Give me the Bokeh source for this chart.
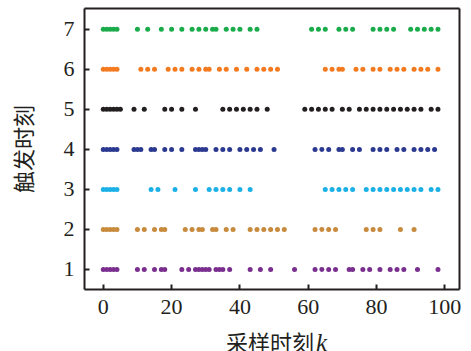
from bokeh.plotting import figure
from bokeh.models import FixedTicker, Range1d, LinearAxis, Div
from bokeh.layouts import column
from bokeh.embed import file_html
from bokeh.resources import INLINE

# trigger instants for each of the 7 channels (sampling instant k)
t1 = [0, 1, 2, 3, 4, 10, 12, 15, 17, 18, 23, 25, 27, 28, 29, 30, 31, 33, 34, 35, 37, 43, 46, 49,
      56, 62, 64, 66, 68, 72, 73, 76, 78, 81, 84, 86, 88, 92, 98]
t2 = [0, 1, 2, 3, 4, 10, 12, 15, 17, 18, 24, 26, 28, 29, 32, 33, 36, 38, 43, 45, 47, 49, 51, 53,
      62, 64, 66, 68, 77, 79, 81, 87, 91]
t3 = [0, 1, 2, 3, 4, 14, 16, 21, 27, 31, 33, 35, 37, 40, 43,
      65, 67, 69, 71, 73, 77, 79, 81, 83, 85, 87, 89, 91, 93, 96, 98]
t4 = [0, 1, 2, 3, 4, 9, 10, 11, 14, 15, 18, 20, 23, 27, 28, 29, 30, 33, 35, 37, 40, 42, 44, 46, 50,
      62, 64, 66, 69, 70, 73, 75, 79, 81, 83, 86, 88, 91, 93, 95, 97]
t5 = [0, 1, 2, 3, 4, 5, 9, 12, 18, 20, 23, 27, 35, 37, 39, 41, 43, 45, 48,
      59, 61, 63, 65, 67, 70, 72, 75, 77, 79, 81, 83, 85, 87, 89, 91, 93, 96, 98]
t6 = [0, 1, 2, 3, 4, 11, 13, 15, 19, 21, 23, 26, 28, 30, 31, 34, 36, 39, 42, 45, 47, 49, 51,
      65, 67, 69, 70, 74, 76, 79, 81, 84, 86, 88, 91, 93, 95, 98]
t7 = [0, 1, 2, 3, 4, 10, 13, 17, 20, 23, 26, 28, 30, 32, 33, 36, 38, 40, 43, 45,
      61, 63, 65, 69, 71, 73, 79, 81, 83, 85, 90, 92, 94, 96, 98]

series = [t1, t2, t3, t4, t5, t6, t7]
levels = [1, 2, 3, 4, 5, 6, 7]
colors = ["#7a2f8f", "#c88a3c", "#1bb1e6", "#2b3990", "#231f20", "#f47a20", "#1aab4b"]

x_ticks = [0, 20, 40, 60, 80, 100]
y_ticks = [1, 2, 3, 4, 5, 6, 7]
x_label = "采样时刻"
x_label_var = "k"
y_label = "触发时刻"

SERIF = "Liberation Serif, serif"
CJK = "Noto Sans CJK SC"
INK = "#231f20"

p = figure(width=470, height=325, output_backend="svg", toolbar_location=None,
           x_range=Range1d(-5.5, 104.3), y_range=Range1d(0.5, 7.52),
           min_border_left=84, min_border_right=11, min_border_top=8, min_border_bottom=36)

for ts, lv, c in zip(series, levels, colors):
    p.scatter(ts, [lv] * len(ts), size=5, color=c, line_width=0)

p.grid.visible = False
p.outline_line_color = None
p.background_fill_color = "white"
p.border_fill_color = "white"

bottom_ax = p.below[0]
left_ax = p.left[0]
top_ax = LinearAxis(ticker=FixedTicker(ticks=[]), major_label_text_font_size="0px")
right_ax = LinearAxis(ticker=FixedTicker(ticks=[]), major_label_text_font_size="0px")
p.add_layout(top_ax, "above")
p.add_layout(right_ax, "right")

for ax in (bottom_ax, left_ax, top_ax, right_ax):
    ax.axis_line_color = INK
    ax.axis_line_width = 2
    ax.major_tick_in = 5
    ax.major_tick_out = 0
    ax.major_tick_line_color = INK
    ax.major_tick_line_width = 2
    ax.minor_tick_line_color = None
    ax.major_label_text_font = SERIF
    ax.major_label_text_color = INK

for ax in (top_ax, right_ax):
    ax.major_tick_line_color = None
    ax.major_label_standoff = 0

for ax in (bottom_ax, left_ax):
    ax.major_label_text_font_size = "22px"
    ax.major_label_standoff = 10

bottom_ax.ticker = FixedTicker(ticks=x_ticks)
left_ax.ticker = FixedTicker(ticks=y_ticks)

left_ax.axis_label = y_label
left_ax.axis_label_text_font = CJK
left_ax.axis_label_text_font_size = "22px"
left_ax.axis_label_text_font_style = "normal"
left_ax.axis_label_text_color = INK
left_ax.axis_label_standoff = 23

xlab = Div(
    text=(f'<span style="font-family:\'Noto Sans CJK SC\'">{x_label}</span>'
          f'<span style="font-family:\'Liberation Serif\';font-style:italic;font-size:25px;'
          f'margin-left:2px">{x_label_var}</span>'),
    width=470, height=20,
    styles={"text-align": "center", "font-size": "22px", "line-height": "20px",
            "color": INK, "margin-top": "6px", "padding-left": "84px",
            "padding-right": "11px", "box-sizing": "border-box", "white-space": "nowrap"},
)

layout = column(p, xlab, spacing=0)

open("out.html", "w").write(file_html(layout, INLINE))
